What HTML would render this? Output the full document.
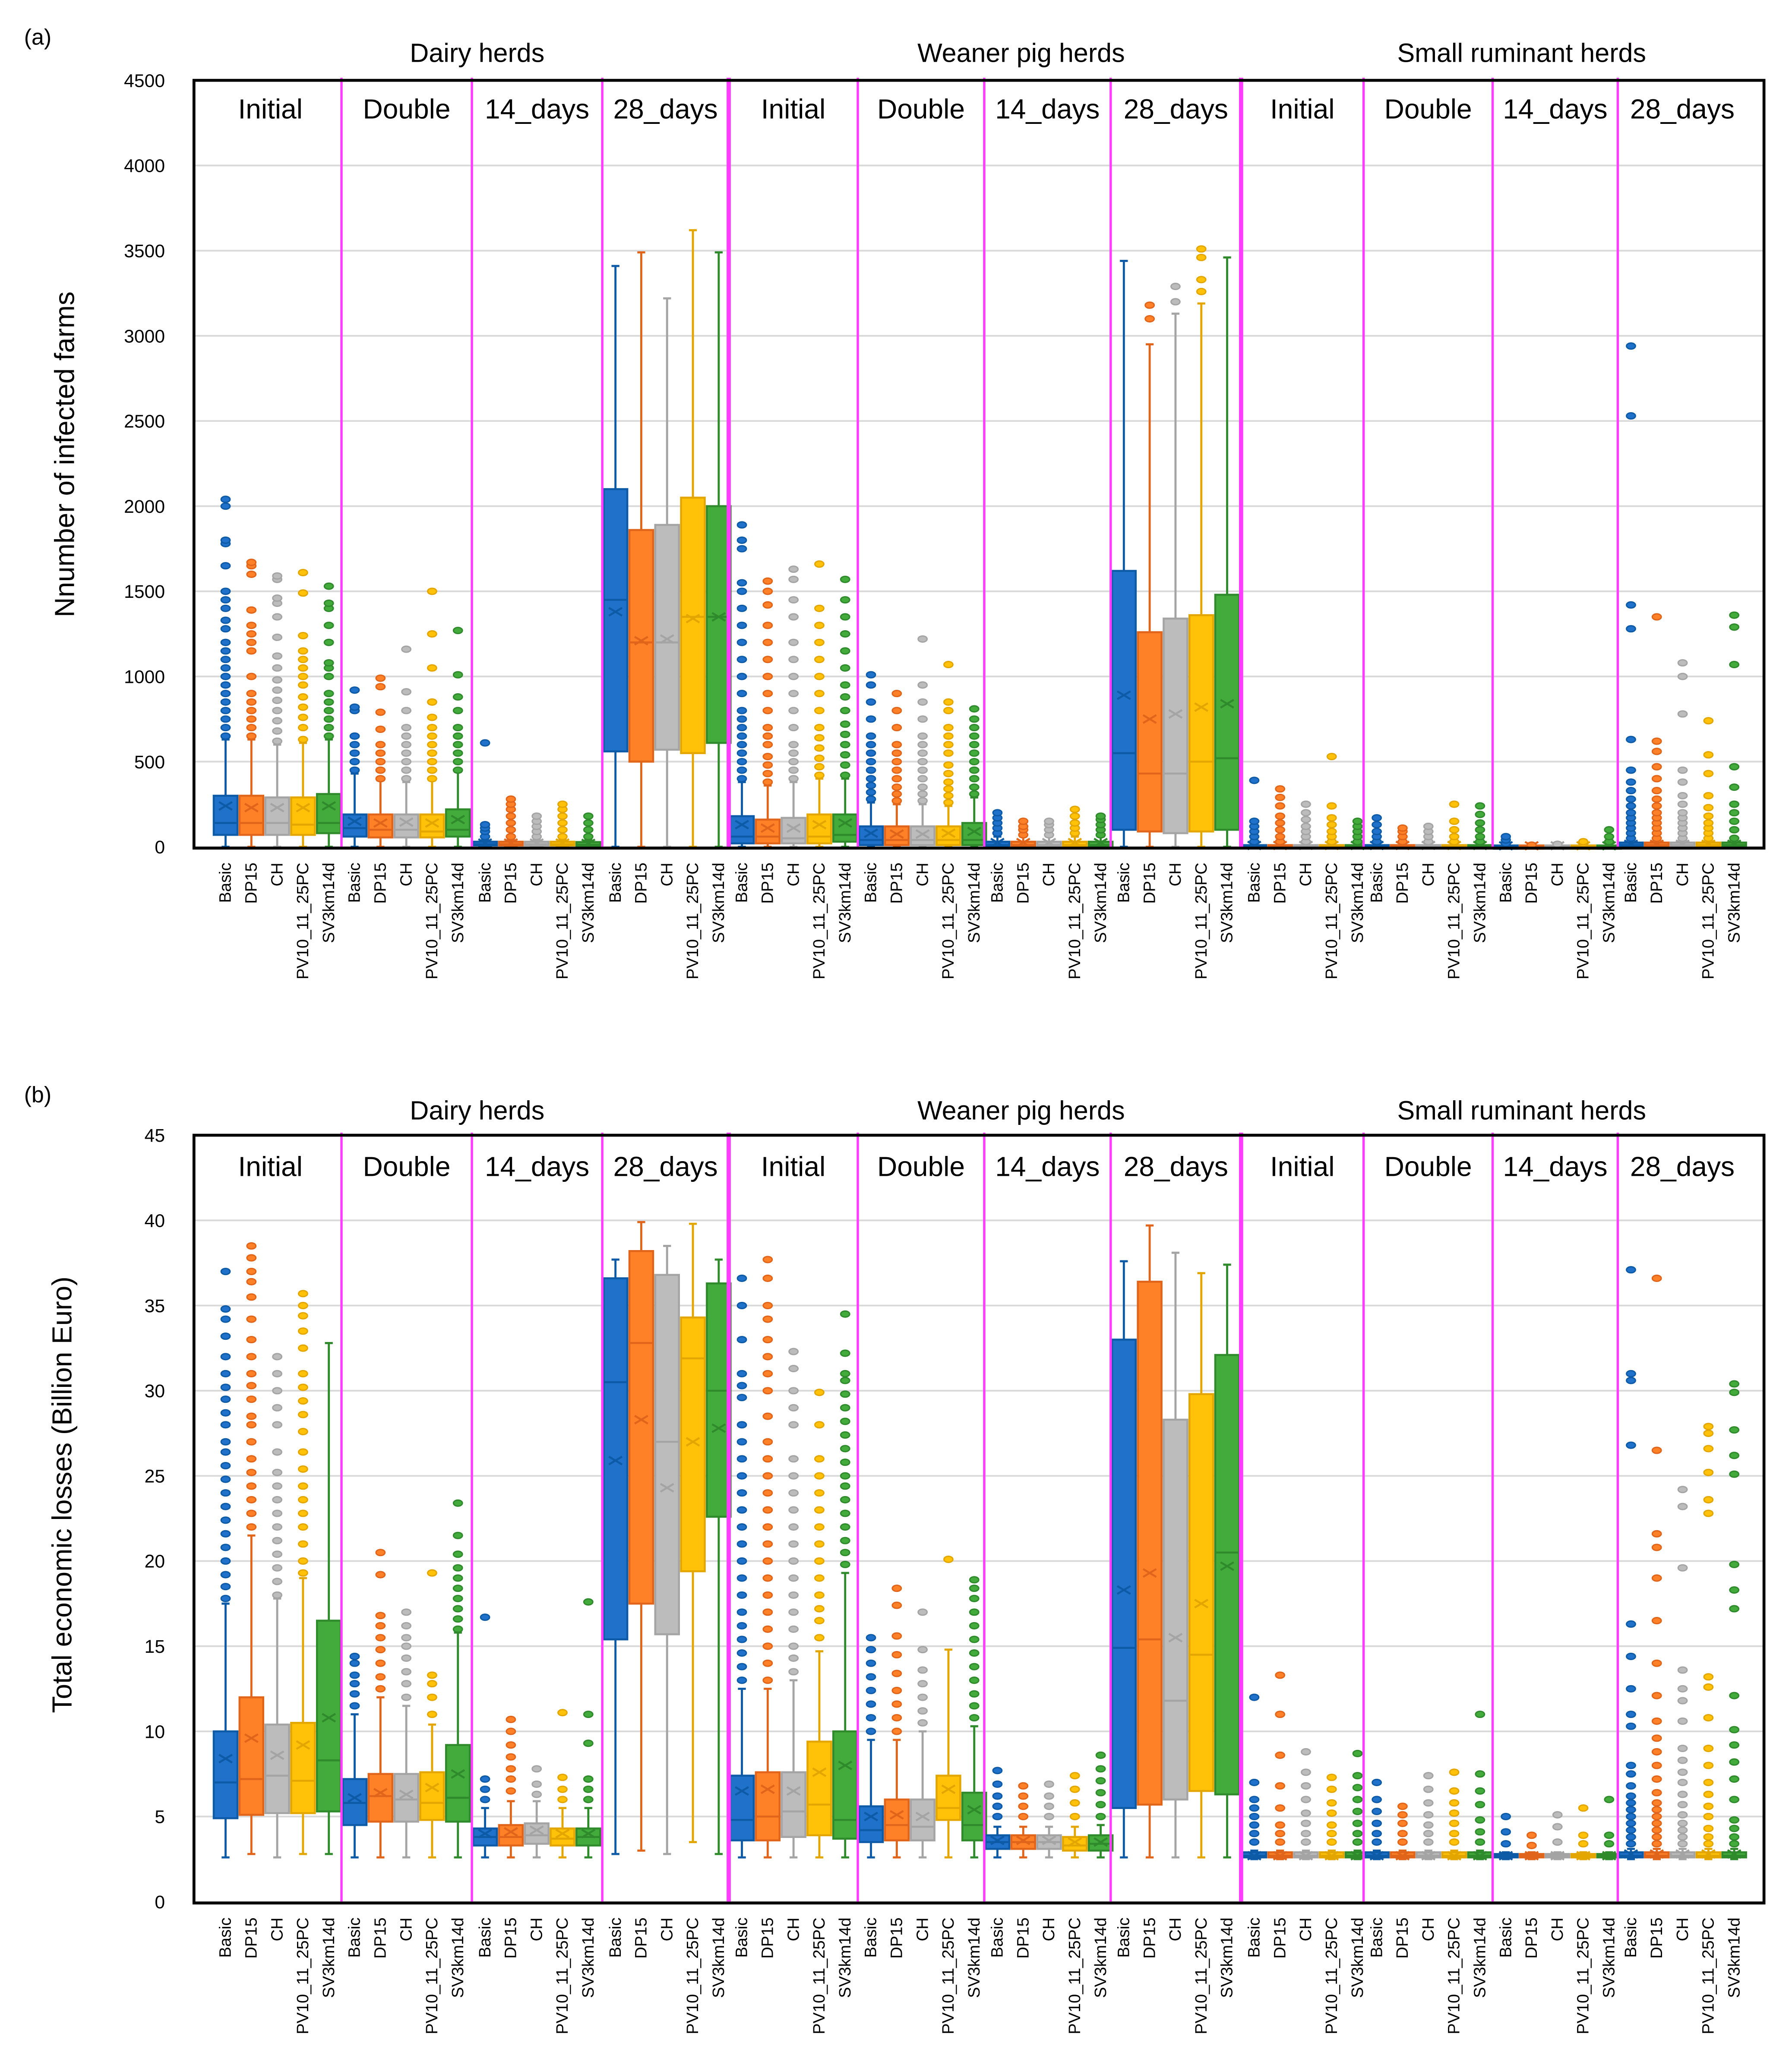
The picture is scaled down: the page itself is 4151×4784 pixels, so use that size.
<!DOCTYPE html>
<html><head><meta charset="utf-8"><style>
html,body{margin:0;padding:0;background:#fff}
svg{display:block}
text{font-family:"Liberation Sans",sans-serif;fill:#000}
</style></head><body>
<svg id="chart" xmlns="http://www.w3.org/2000/svg" width="4151" height="4784" viewBox="0 0 1360 1568">
<rect width="1360" height="1568" fill="#fff"/>
</svg>
<script>
// ---- Data ----
const scenarios = ["Basic","DP15","CH","PV10_11_25PC","SV3km14d"];
const subgroups = ["Initial","Double","14_days","28_days","Initial","Double","14_days","28_days","Initial","Double","14_days","28_days"];
const herdTypes = ["Dairy herds","Weaner pig herds","Small ruminant herds"];
const ticksA = [0,500,1000,1500,2000,2500,3000,3500,4000,4500];
const ticksB = [0,5,10,15,20,25,30,35,40,45];
// stats per box: [whiskerLow, q1, median, q3, whiskerHigh, mean]
const statsA = [
 [[0,70,140,300,630,240],[0,70,140,300,630,230],[0,70,140,290,600,230],[0,70,130,290,610,230],[0,80,140,310,630,240]],
 [[0,60,110,190,430,150],[0,55,100,190,390,140],[0,55,100,190,380,145],[0,55,90,190,390,140],[0,60,100,220,440,160]],
 [[0,8,15,30,40,22],[0,8,15,30,40,22],[0,8,15,30,40,22],[0,8,15,30,40,22],[0,5,12,28,40,20]],
 [[0,560,1450,2100,3410,1380],[0,500,1200,1860,3490,1210],[0,570,1200,1890,3220,1220],[0,550,1350,2050,3620,1340],[0,610,1350,2000,3490,1350]],
 [[0,20,60,180,380,130],[0,20,60,160,360,110],[0,20,50,170,380,110],[0,20,60,190,400,130],[0,30,70,190,400,140]],
 [[0,10,40,120,260,80],[0,10,40,120,250,75],[0,10,40,120,250,75],[0,10,40,120,240,80],[0,10,40,140,290,90]],
 [[0,5,10,30,60,25],[0,5,10,30,60,25],[0,5,10,30,60,25],[0,5,10,30,60,25],[0,5,10,30,60,25]],
 [[0,100,550,1620,3440,890],[0,90,430,1260,2950,750],[0,80,430,1340,3130,780],[0,90,500,1360,3190,820],[0,100,520,1480,3460,840]],
 [[0,2,5,10,20,8],[0,2,5,10,20,8],[0,2,5,10,20,8],[0,2,5,10,20,8],[0,2,5,10,20,8]],
 [[0,2,5,10,20,8],[0,2,5,10,20,8],[0,2,5,10,20,8],[0,2,5,10,20,8],[0,2,5,10,20,8]],
 [[0,2,4,8,12,6],[0,2,4,8,12,6],[0,2,4,8,12,6],[0,2,4,8,12,6],[0,2,4,8,12,6]],
 [[0,5,10,25,40,15],[0,5,10,25,40,15],[0,5,10,25,40,15],[0,5,10,25,40,15],[0,5,10,25,40,15]]
];
const outA = [
 [[650,700,750,800,850,900,950,1000,1050,1100,1150,1200,1280,1330,1400,1450,1500,1650,1780,1800,2000,2040],[650,700,750,800,850,900,1000,1150,1200,1250,1300,1390,1600,1650,1670],[620,680,740,800,860,920,980,1050,1120,1230,1350,1430,1460,1570,1590],[630,700,760,820,880,950,1000,1050,1100,1150,1240,1490,1610],[650,700,750,800,850,900,1000,1050,1080,1200,1300,1400,1430,1530]],
 [[450,500,550,600,650,800,820,920],[400,450,500,550,600,690,790,940,990],[400,450,500,550,600,650,700,800,910,1160],[400,450,500,550,600,650,700,760,850,1050,1250,1500],[450,500,550,600,650,700,800,880,1010,1270]],
 [[60,90,110,130,610],[60,100,140,180,220,250,280],[60,90,120,150,180],[60,100,140,180,220,250],[60,100,140,180]],
 [[],[],[],[],[]],
 [[400,450,500,550,600,650,700,750,800,900,1000,1100,1200,1300,1400,1500,1550,1750,1800,1890],[380,430,480,530,600,650,700,800,900,1000,1100,1200,1300,1420,1500,1560],[400,450,500,550,600,700,800,900,1000,1100,1200,1350,1450,1570,1630],[420,470,520,580,640,700,800,900,1000,1100,1200,1300,1400,1660],[420,480,540,600,660,720,800,880,950,1050,1150,1250,1350,1450,1570]],
 [[280,320,360,400,450,500,550,600,650,750,850,950,1010],[270,310,350,400,450,500,550,600,700,800,900],[270,310,350,400,450,500,550,600,650,750,850,950,1220],[260,300,340,380,430,480,550,600,650,700,800,850,1070],[310,350,400,450,500,550,600,650,700,750,810]],
 [[80,110,140,170,200],[70,100,120,150],[70,100,130,150],[80,110,140,180,220],[70,100,130,160,180]],
 [[],[3100,3180],[3200,3290],[3260,3330,3460,3510],[]],
 [[30,60,90,120,150,390],[30,60,100,140,180,240,290,340],[30,60,90,120,160,200,250],[30,60,90,130,170,240,530],[30,60,90,120,150]],
 [[30,60,90,130,170],[30,60,90,110],[30,60,90,120],[30,60,100,150,250],[30,60,100,140,190,240]],
 [[20,40,60],[10],[15],[20,30],[30,60,100]],
 [[50,80,110,140,170,200,240,280,330,380,450,630,1280,1420,2530,2940],[50,80,110,140,170,200,240,280,330,400,470,560,620,1350],[50,80,110,140,170,200,250,300,380,450,780,1000,1080],[50,80,110,140,180,230,300,430,540,740],[50,100,150,200,250,350,470,1070,1290,1360]]
];
const statsB = [
 [[2.6,4.9,7.0,10.0,17.5,8.4],[2.8,5.1,7.2,12.0,21.5,9.6],[2.6,5.2,7.4,10.4,17.8,8.6],[2.8,5.2,7.1,10.5,19.0,9.2],[2.8,5.3,8.3,16.5,32.8,10.8]],
 [[2.6,4.5,5.8,7.2,11.0,6.1],[2.6,4.7,6.2,7.5,12.0,6.4],[2.6,4.7,6.0,7.5,11.5,6.3],[2.6,4.8,5.8,7.6,10.4,6.7],[2.6,4.7,6.1,9.2,15.8,7.5]],
 [[2.6,3.3,3.8,4.3,5.5,4.0],[2.6,3.3,3.8,4.5,5.9,4.1],[2.6,3.4,3.9,4.6,5.9,4.2],[2.6,3.3,3.7,4.3,5.5,4.0],[2.6,3.3,3.8,4.3,5.5,4.0]],
 [[2.8,15.4,30.5,36.6,37.7,25.9],[3.0,17.5,32.8,38.2,39.9,28.3],[2.8,15.7,27.0,36.8,38.5,24.3],[3.5,19.4,31.9,34.3,39.8,27.0],[2.8,22.6,30.0,36.3,37.7,27.8]],
 [[2.6,3.6,4.8,7.4,12.5,6.5],[2.6,3.6,5.0,7.6,12.5,6.6],[2.6,3.8,5.3,7.6,13.0,6.5],[2.6,3.9,5.7,9.4,14.7,7.6],[2.6,3.7,4.8,10.0,19.3,8.0]],
 [[2.6,3.5,4.2,5.6,9.5,5.0],[2.6,3.6,4.5,6.0,9.5,5.1],[2.6,3.6,4.4,6.0,10.0,5.0],[2.6,4.8,5.5,7.4,14.8,6.6],[2.6,3.6,4.5,6.4,10.3,5.4]],
 [[2.6,3.1,3.5,3.9,4.4,3.6],[2.6,3.1,3.5,3.9,4.4,3.6],[2.6,3.1,3.5,3.9,4.4,3.6],[2.6,3.0,3.3,3.8,4.4,3.5],[2.6,3.0,3.4,3.9,4.5,3.5]],
 [[2.6,5.5,14.9,33.0,37.6,18.3],[2.6,5.7,15.4,36.4,39.7,19.3],[2.6,6.0,11.8,28.3,38.1,15.5],[2.6,6.5,14.5,29.8,36.9,17.5],[2.6,6.3,20.5,32.1,37.4,19.7]],
 [[2.5,2.6,2.7,2.9,3.0,2.7],[2.5,2.6,2.7,2.9,3.0,2.7],[2.5,2.6,2.7,2.9,3.0,2.7],[2.5,2.6,2.7,2.9,3.0,2.7],[2.5,2.6,2.7,2.9,3.0,2.7]],
 [[2.5,2.6,2.7,2.9,3.0,2.7],[2.5,2.6,2.7,2.9,3.0,2.7],[2.5,2.6,2.7,2.9,3.0,2.7],[2.5,2.6,2.7,2.9,3.0,2.7],[2.5,2.6,2.7,2.9,3.0,2.7]],
 [[2.5,2.6,2.7,2.8,2.9,2.7],[2.5,2.6,2.7,2.8,2.9,2.7],[2.5,2.6,2.7,2.8,2.9,2.7],[2.5,2.6,2.7,2.8,2.9,2.7],[2.5,2.6,2.7,2.8,2.9,2.7]],
 [[2.5,2.6,2.7,2.9,3.1,2.8],[2.5,2.6,2.7,2.9,3.1,2.8],[2.5,2.6,2.7,2.9,3.1,2.8],[2.5,2.6,2.7,2.9,3.1,2.8],[2.5,2.6,2.7,2.9,3.1,2.8]]
];
const outB = [
 [[17.8,18.5,19.2,20,20.8,21.6,22.4,23.2,24,24.8,25.6,26.4,27,28,28.7,29.5,30.2,31,32,33.2,34.2,34.8,37],[22,22.8,23.6,24.4,25.2,26,27,28,28.5,29.5,30.3,31,32,33,34.2,35.5,36.4,37,37.8,38.5],[18,18.8,19.6,20.4,21.2,22,22.8,23.6,24.4,25.2,26.4,28,29,30,31,32],[19.3,20,21,22,22.8,23.6,24.4,25.4,26.4,27.6,28.6,29.4,30.2,31,32.5,33.5,34.4,35,35.7],[]],
 [[11.5,12.2,12.8,13.3,14,14.4],[12.5,13.2,14,14.8,15.5,16.2,16.8,19.2,20.5],[12,12.8,13.5,14.3,15,15.5,16.2,17],[11,12,12.8,13.3,19.3],[16,16.6,17.2,17.8,18.4,19,19.6,20.4,21.5,23.4]],
 [[6,6.6,7.2,16.7],[6.5,7.2,7.8,8.5,9.2,10,10.7],[6.3,6.9,7.8],[6,6.6,7.3,11.1],[6,6.6,7.2,9.3,11,17.6]],
 [[],[],[],[],[]],
 [[13,13.8,14.6,15.4,16.2,17,18,19,20,21,22,23,24,25,26,27,28,29.6,30.3,31,33,35,36.6],[13,14,15,16,17,18,19,20,21,22,23,24,25,26,27,28.5,30,31,32,33,34.2,35,36.6,37.7],[13.5,14.3,15,16,17,18,19,20,21,22,23,24,25,26,28,29,30,31.3,32.3],[15.5,16.5,17.2,18,19,20,21,22,23,24,25,26,28,29.9],[19.8,20.5,21.2,22,22.8,23.6,24.4,25,25.8,26.6,27.4,28.2,29,29.8,30.6,31,32.2,34.5]],
 [[10,10.8,11.6,12.4,13.2,14,14.8,15.5],[10,10.8,11.6,12.4,13.4,14.5,15.6,17.4,18.4],[10.5,11.2,12,12.8,13.6,14.8,17],[20.1],[10.8,11.5,12.2,13,13.8,14.6,15.4,16.2,17,17.8,18.4,18.9]],
 [[5,5.6,6.2,6.9,7.7],[5,5.6,6.2,6.8],[5,5.6,6.2,6.9],[5,5.8,6.6,7.4],[5,5.7,6.4,7.1,7.8,8.6]],
 [[],[],[],[],[]],
 [[3.5,4,4.5,5,5.5,6,7,12],[3.5,4,4.5,5.5,6.8,8.6,11,13.3],[3.5,4,4.6,5.2,6,6.8,7.6,8.8],[3.5,4,4.5,5.2,5.8,6.6,7.3],[3.5,4,4.6,5.3,6,6.7,7.4,8.7]],
 [[3.5,4,4.6,5.3,6,7],[3.5,4,4.6,5.1,5.6],[3.5,4,4.5,5.1,5.8,6.6,7.4],[3.5,4,4.6,5.2,5.8,6.5,7.6],[3.5,4.1,4.8,5.7,6.5,7.5,11]],
 [[3.4,4.1,5],[3.3,3.9],[3.5,4.4,5.1],[3.4,3.9,5.5],[3.4,3.9,6]],
 [[3.4,3.8,4.2,4.6,5,5.4,5.8,6.2,6.8,7.5,8,10.3,11,12.5,14.4,16.3,26.8,30.6,31,37.1],[3.4,3.8,4.2,4.6,5,5.4,5.8,6.4,7.2,8,8.8,9.6,10.6,12.1,14,16.5,19,20.8,21.6,26.5,36.6],[3.4,3.8,4.2,4.6,5.1,5.7,6.3,7,7.6,8.3,9,10.6,11.8,12.5,13.6,19.6,23.2,24.2],[3.4,3.8,4.3,5,5.6,6.3,7,8,9,10.8,12.6,13.2,22.8,23.6,25.2,26.6,27.5,27.9],[3.4,3.8,4.3,4.8,6,7.2,8.2,9.2,10.1,12.1,17.2,18.3,19.8,25.1,26.2,27.7,29.9,30.4]]
];
// ---- Layout ----
const fills = ["#1f71c9","#ff8127","#bcbcbc","#ffc208","#43ab3c"];
const strokes = ["#0d5aa7","#e0651a","#a4a4a4","#e3a600","#2f8a2c"];
const bounds = [161,259,358,457,553,651,747,843,942,1035,1133,1228,1326];
const headX = [362,775,1155];
const svg = document.getElementById('chart');
const NS = "http://www.w3.org/2000/svg";
function el(tag, attrs, parent){const e=document.createElementNS(NS,tag);for(const k in attrs)e.setAttribute(k,attrs[k]);(parent||svg).appendChild(e);return e;}
function txt(s, attrs, parent){const e=el('text',attrs,parent);e.textContent=s;return e;}

function panel(p){
  const g = el('g',{});
  
  
  const yOf = v => p.y0 - (v - 0) / p.max * (p.y0 - p.yTop);
  p.ticks.forEach(t=>{
    const y=yOf(t);
    const gl=el('line',{x1:148,x2:1339,y1:y,y2:y,stroke:'#d9d9d9','stroke-width':1.3},g);
    
    
    const tl=txt(String(t),{x:125,y:y+5,'text-anchor':'end','font-size':14},g);
    
    
  });
  const yt=txt(p.ytitle,{x:0,y:0,'font-size':21,'text-anchor':'middle',transform:`translate(${p.ytx},${p.yty}) rotate(-90)`},g);
  
  
  const pl=txt(p.label,{x:18,y:p.labelY,'font-size':17},g);
  
  
  herdTypes.forEach((h,i)=>{
    const ht=txt(h,{x:headX[i],y:p.headY,'font-size':20,'text-anchor':'middle'},g);
    
    
  });
  subgroups.forEach((s,i)=>{
    const cx=(bounds[i]+bounds[i+1])/2 + (i===0?-5:0);
    const st=txt(s,{x:cx,y:p.subY,'font-size':21,'text-anchor':'middle'},g);
    
    
  });
  for(let gi=0;gi<12;gi++){
    for(let j=0;j<5;j++){
      const cx=bounds[gi]+10+j*19.6;
      const s=p.stats[gi][j];
      const bg=el('g',{},g);
      
      
      el('line',{x1:cx,x2:cx,y1:yOf(s[0]),y2:yOf(s[4]),stroke:strokes[j],'stroke-width':1.6},bg);
      el('line',{x1:cx-3,x2:cx+3,y1:yOf(s[0]),y2:yOf(s[0]),stroke:strokes[j],'stroke-width':1.6},bg);
      el('line',{x1:cx-3,x2:cx+3,y1:yOf(s[4]),y2:yOf(s[4]),stroke:strokes[j],'stroke-width':1.6},bg);
      const top=yOf(s[3]),bot=yOf(s[1]);
      el('rect',{x:cx-9,y:top,width:18,height:Math.max(bot-top,2.5),fill:fills[j],stroke:strokes[j],'stroke-width':1.5},bg);
      el('line',{x1:cx-9,x2:cx+9,y1:yOf(s[2]),y2:yOf(s[2]),stroke:strokes[j],'stroke-width':1.5},bg);
      const my=yOf(s[5]);
      el('path',{d:`M${cx-5},${my-3}L${cx+5},${my+3}M${cx-5},${my+3}L${cx+5},${my-3}`,stroke:strokes[j],'stroke-width':1.5,fill:'none'},bg);
      p.out[gi][j].forEach(v=>{
        el('ellipse',{cx:cx,cy:yOf(v),rx:3.4,ry:2.3,fill:fills[j],stroke:strokes[j],'stroke-width':1},bg);
      });
      const xl=txt(scenarios[j],{x:0,y:0,'font-size':12.5,'text-anchor':'end',transform:`translate(${cx+4},${p.y0+12}) rotate(-90)`},g);
      
      
    }
  }
  for(let i=1;i<12;i++){
    const thick=(i===4||i===8);
    const sp=el('line',{x1:bounds[i],x2:bounds[i],y1:p.yTop-2,y2:p.y0+2,stroke:'#ff3cff','stroke-width':thick?3.2:1.8},g);
    
    
  }
  const fr=el('rect',{x:147,y:p.frameTop,width:1192,height:p.y0-p.frameTop+1,fill:'none',stroke:'#000','stroke-width':2.2},g);
  
  
}
panel({name:'panel-a-infected-farms',stats:statsA,out:outA,ticks:ticksA,max:4500,y0:643,yTop:61,frameTop:61,ytitle:'Nnumber of infected farms',ytx:56,yty:345,label:'(a)',labelY:34,headY:47,subY:90});
panel({name:'panel-b-economic-losses',stats:statsB,out:outB,ticks:ticksB,max:45,y0:1444,yTop:862,frameTop:862,ytitle:'Total economic losses (Billion Euro)',ytx:54,yty:1135,label:'(b)',labelY:837,headY:850,subY:893});
</script>
</body></html>
